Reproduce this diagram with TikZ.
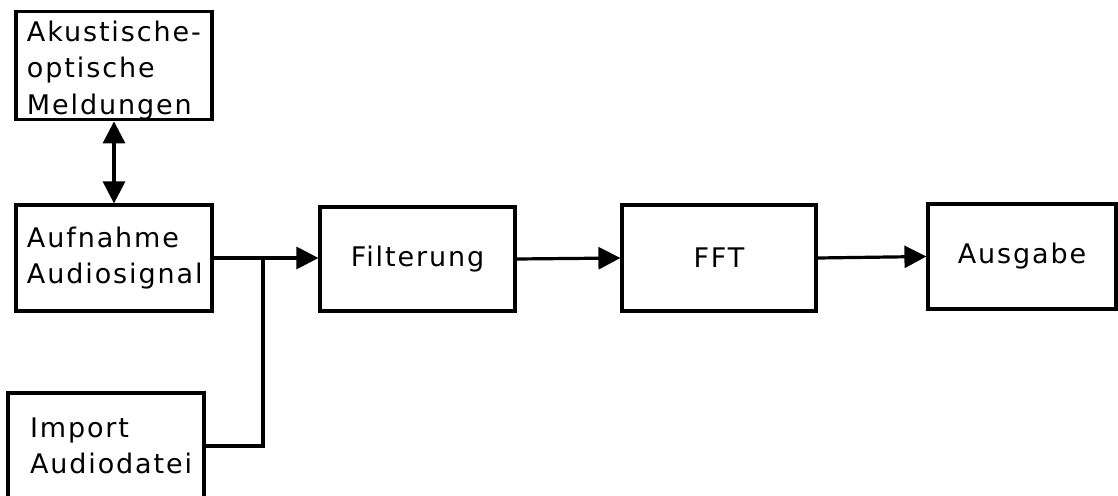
\documentclass[tikz,border=0pt]{standalone}
\usepackage{fontspec}
\setmainfont{DejaVu Sans}[LetterSpace=7]
\usetikzlibrary{arrows.meta}
\begin{document}
\begin{tikzpicture}[x=1pt,y=-1pt,
  box/.style={draw,line width=3.2pt,minimum width=196pt,minimum height=106pt,
    font=\fontsize{27}{36.5}\selectfont,inner sep=0pt},
  lbox/.style={box,align=left,text width=174pt,inner xsep=11pt},
  conn/.style={line width=3.2pt},
  arr/.style={conn,-{Triangle[length=22pt,width=22pt]}},
  darr/.style={conn,{Triangle[length=22pt,width=22pt]}-{Triangle[length=22pt,width=22pt]}}]
\useasboundingbox (0,0) rectangle (1118,495);
\node[lbox,minimum height=105pt,text height=30pt] (ak) at (114,65.5) {Akustische-\\optische\\Meldungen};
\node[lbox] (auf) at (114,258) {Aufnahme\\Audiosignal};
\node[lbox,text width=152pt,inner xsep=22pt] (imp) at (106,446) {Import\\Audiodatei};
\node[box,minimum width=195pt,minimum height=104pt] (fil) at (417.5,259) {Filterung};
\node[box,minimum width=194pt] (fft) at (719,258) {FFT};
\node[box,minimum width=188pt,minimum height=105pt] (aus) at (1022,256.5) {Ausgabe};
\coordinate (j) at (263,259);
\draw[darr] (ak.south) -- (auf.north);
\draw[arr] (auf.east) -- (auf.east -| fil.west);
\draw[conn] (imp.east) -| (j);
\draw[arr] (fil.east) -- (fft.west);
\draw[arr] (fft.east) -- (aus.west);
\end{tikzpicture}
\end{document}
